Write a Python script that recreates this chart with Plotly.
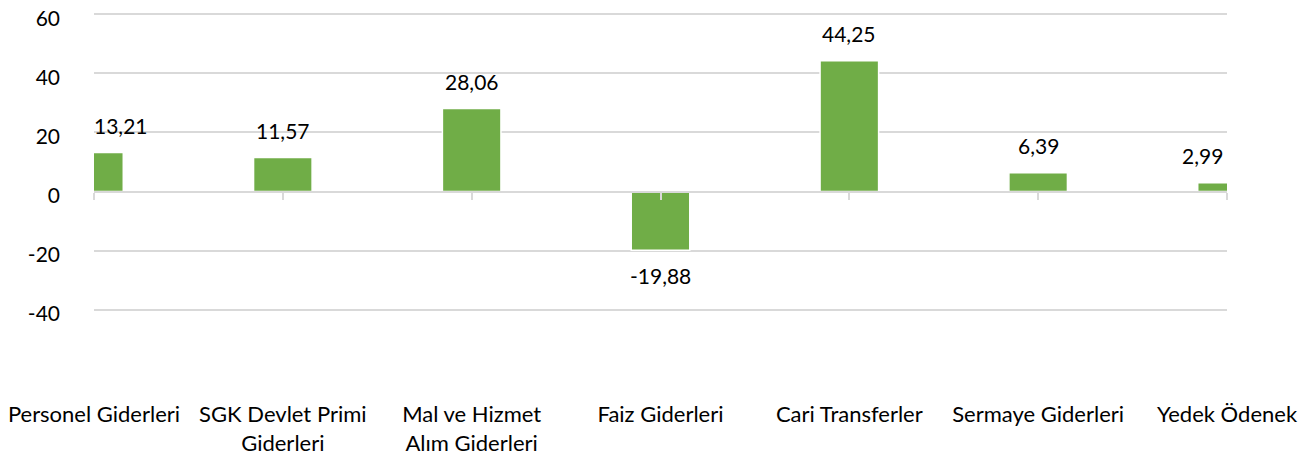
import plotly.graph_objects as go

categories = ["Personel Giderleri", "SGK Devlet Primi<br>Giderleri", "Mal ve Hizmet<br>Alım Giderleri",
              "Faiz Giderleri", "Cari Transferler", "Sermaye Giderleri", "Yedek Ödenek"]
values = [13.21, 11.57, 28.06, -19.88, 44.25, 6.39, 2.99]
value_labels = ["13,21", "11,57", "28,06", "-19,88", "44,25", "6,39", "2,99"]
y_ticks = [-40, -20, 0, 20, 40, 60]
y_tick_text = ["-40", "-20", "0", "20", "40", "60"]

FONT = "Lato"
GREEN = "#70AD47"
GRID = "#D9D9D9"
ymin, ymax = -60, 60.4

fig = go.Figure()
fig.add_trace(go.Bar(
    x=categories, y=values, width=0.31,
    marker=dict(color=GREEN, line=dict(color="white", width=1.5)),
    showlegend=False, hoverinfo="skip",
))
fig.add_trace(go.Scatter(x=categories, y=[0]*len(categories), xaxis="x2", mode="markers",
                         marker=dict(opacity=0), showlegend=False, hoverinfo="skip"))

n = len(categories)
for i, (c, v, t) in enumerate(zip(categories, values, value_labels)):
    anchor = "center"
    xs = 0
    if i == 0:
        anchor, xs = "left", -2
    elif i == n - 1:
        anchor, xs = "right", -2
    fig.add_annotation(x=c, y=v, text=t, showarrow=False, xanchor=anchor, xshift=xs,
                       yanchor="middle", yshift=27 if v >= 0 else -25,
                       font=dict(family=FONT, size=21, color="#000000"))

fig.update_layout(
    width=1301, height=449,
    margin=dict(l=86, r=82, t=5, b=88, autoexpand=False),
    plot_bgcolor="white", paper_bgcolor="white",
    font=dict(family=FONT, size=21, color="#000000"),
    xaxis=dict(type="category", range=[0, n - 1], showgrid=False, showline=False, ticks="",
               zeroline=False, ticklabelstandoff=30, tickfont=dict(size=22), automargin=False,
               ticklabeloverflow="allow"),
    xaxis2=dict(type="category", overlaying="x", anchor="free",
                position=(0 - ymin) / (ymax - ymin), range=[0, n - 1], side="bottom",
                showline=True, linecolor=GRID, linewidth=2, ticks="outside", ticklen=7,
                tickcolor=GRID, tickwidth=1.5, showticklabels=False, showgrid=False,
                zeroline=False, automargin=False),
    yaxis=dict(range=[ymin, ymax], tickvals=y_ticks, ticktext=y_tick_text, showgrid=True,
               gridcolor=GRID, gridwidth=2, zeroline=False, showline=False, ticks="",
               ticklabelstandoff=33, ticklabelshift=4, tickfont=dict(size=21),
               automargin=False, ticklabeloverflow="allow"),
)

fig.write_html("out.html")
